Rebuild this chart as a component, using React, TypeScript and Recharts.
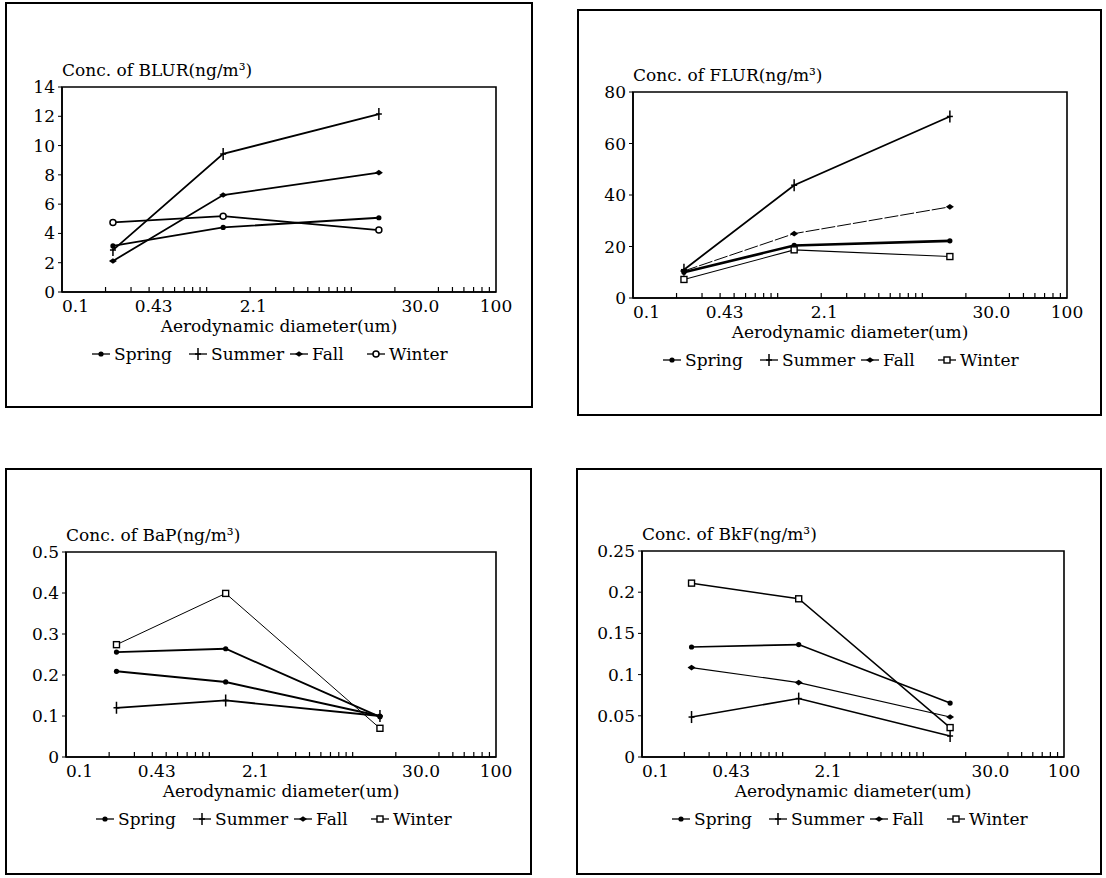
import React from "react";
import { LineChart, Line, XAxis, YAxis, ReferenceArea } from "recharts";

// particle size of each stage (um)
const sizes = [0.225, 1.3, 15.5];

const xTicks = [
  0.1, 0.2, 0.3, 0.4, 0.43, 0.5, 0.6, 0.7, 0.8, 0.9, 1, 2, 2.1, 3, 4, 5, 6, 7, 8, 9, 10,
  20, 30, 40, 50, 60, 70, 80, 90, 100,
];
const xTickLabels: Record<string, string> = { "0.1": "0.1", "0.43": "0.43", "2.1": "2.1", "30": "30.0", "100": "100" };

const seasons = ["Spring", "Summer", "Fall", "Winter"];

// BLUR
const blurSpring = [3.15, 4.41, 5.07];
const blurSummer = [2.86, 9.43, 12.15];
const blurFall = [2.12, 6.62, 8.15];
const blurWinter = [4.75, 5.18, 4.23];
const blurTicks = [0, 2, 4, 6, 8, 10, 12, 14];

// FLUR
const flurSpring = [10.0, 20.4, 22.2];
const flurSummer = [11.0, 43.8, 70.5];
const flurFall = [10.5, 25.0, 35.4];
const flurWinter = [7.2, 18.7, 16.1];
const flurTicks = [0, 20, 40, 60, 80];

// BaP
const bapSpring = [0.256, 0.264, 0.098];
const bapSummer = [0.12, 0.138, 0.1];
const bapFall = [0.209, 0.183, 0.1];
const bapWinter = [0.274, 0.399, 0.07];
const bapTicks = [0, 0.1, 0.2, 0.3, 0.4, 0.5];

// BkF
const bkfSpring = [0.1335, 0.1364, 0.0655];
const bkfSummer = [0.0485, 0.0709, 0.0255];
const bkfFall = [0.1085, 0.0903, 0.0485];
const bkfWinter = [0.211, 0.192, 0.0357];
const bkfTicks = [0, 0.05, 0.1, 0.15, 0.2, 0.25];

const FONT = "'DejaVu Serif', 'Liberation Serif', serif";
const FS = 17;

type Kind = "dot" | "tick" | "star" | "circle" | "square";

function marker(kind: Kind, cx: number, cy: number, key?: any) {
  switch (kind) {
    case "dot":
      return <circle key={key} cx={cx} cy={cy} r={2.6} fill="#000" />;
    case "tick":
      return (
        <g key={key} stroke="#000" strokeWidth={1.5}>
          <line x1={cx} x2={cx} y1={cy - 6} y2={cy + 6} />
          <line x1={cx - 3} x2={cx + 3} y1={cy} y2={cy} />
        </g>
      );
    case "star":
      return <path key={key} d={`M${cx - 4},${cy} L${cx},${cy - 2.8} L${cx + 4},${cy} L${cx},${cy + 2.8} Z`} fill="#000" />;
    case "circle":
      return <circle key={key} cx={cx} cy={cy} r={3} fill="#fff" stroke="#000" strokeWidth={1.5} />;
    case "square":
      return <rect key={key} x={cx - 3} y={cy - 3} width={6} height={6} fill="#fff" stroke="#000" strokeWidth={1.4} />;
  }
}

type Series = { key: string; values: number[]; width: number; dash?: string; kind: Kind };

type PanelCfg = {
  title: string;
  box: [number, number, number, number];
  plot: [number, number, number, number];
  yMax: number;
  yTicks: number[];
  series: Series[];
  legendKinds: Kind[];
};

const panels: PanelCfg[] = [
  {
    title: "Conc. of BLUR(ng/m³)",
    box: [5, 2, 533, 408],
    plot: [62, 87, 496, 292],
    yMax: 14,
    yTicks: blurTicks,
    series: [
      { key: "Spring", values: blurSpring, width: 1.8, kind: "dot" },
      { key: "Summer", values: blurSummer, width: 1.8, kind: "tick" },
      { key: "Fall", values: blurFall, width: 1.8, kind: "star" },
      { key: "Winter", values: blurWinter, width: 1.8, kind: "circle" },
    ],
    legendKinds: ["dot", "tick", "star", "circle"],
  },
  {
    title: "Conc. of FLUR(ng/m³)",
    box: [577, 9, 1102, 416],
    plot: [633, 92, 1067, 298],
    yMax: 80,
    yTicks: flurTicks,
    series: [
      { key: "Spring", values: flurSpring, width: 2.6, kind: "dot" },
      { key: "Summer", values: flurSummer, width: 1.8, kind: "tick" },
      { key: "Fall", values: flurFall, width: 1, dash: "14 2", kind: "star" },
      { key: "Winter", values: flurWinter, width: 1.1, kind: "square" },
    ],
    legendKinds: ["dot", "tick", "star", "square"],
  },
  {
    title: "Conc. of BaP(ng/m³)",
    box: [5, 468, 532, 875],
    plot: [66, 552, 496, 757],
    yMax: 0.5,
    yTicks: bapTicks,
    series: [
      { key: "Spring", values: bapSpring, width: 1.8, kind: "dot" },
      { key: "Summer", values: bapSummer, width: 1.8, kind: "tick" },
      { key: "Fall", values: bapFall, width: 2, kind: "dot" },
      { key: "Winter", values: bapWinter, width: 1, kind: "square" },
    ],
    legendKinds: ["dot", "tick", "star", "square"],
  },
  {
    title: "Conc. of BkF(ng/m³)",
    box: [576, 468, 1102, 875],
    plot: [642, 551, 1064, 757],
    yMax: 0.25,
    yTicks: bkfTicks,
    series: [
      { key: "Spring", values: bkfSpring, width: 1.6, kind: "dot" },
      { key: "Summer", values: bkfSummer, width: 1.6, kind: "tick" },
      { key: "Fall", values: bkfFall, width: 1.2, kind: "star" },
      { key: "Winter", values: bkfWinter, width: 1.5, kind: "square" },
    ],
    legendKinds: ["dot", "tick", "star", "square"],
  },
];

function XTick(props: any) {
  const { x, y, payload } = props;
  const v = payload.value;
  const label = xTickLabels[String(v)];
  if (label) {
    const anchor = label === "0.1" ? "start" : "middle";
    return (
      <text x={x} y={y + 20} textAnchor={anchor} fontFamily={FONT} fontSize={FS} fill="#000">
        {label}
      </text>
    );
  }
  return <line x1={x} x2={x} y1={y} y2={y - 5} stroke="#000" strokeWidth={1.2} />;
}

const legendOffsets = [30, 127, 228, 305];

function Panel({ cfg }: { cfg: PanelCfg }) {
  const [bl, bt, br, bb] = cfg.box;
  const [pl, pt, pr, pb] = cfg.plot;
  const padL = 60, padT = 20, padR = 20, padB = 30;
  const width = pr - pl + padL + padR;
  const height = pb - pt + padT + padB;
  const data = sizes.map((x, i) => {
    const row: any = { x };
    cfg.series.forEach((s) => (row[s.key] = s.values[i]));
    return row;
  });
  return (
    <>
      <div
        style={{
          position: "absolute", left: bl, top: bt, width: br - bl, height: bb - bt,
          border: "2px solid #000", boxSizing: "border-box",
        }}
      />
      <div style={{ position: "absolute", left: pl, top: pt - 27, fontFamily: FONT, fontSize: FS, lineHeight: "20px", whiteSpace: "nowrap" }}>
        {cfg.title}
      </div>
      <div style={{ position: "absolute", left: pl - padL, top: pt - padT }}>
        <LineChart width={width} height={height} data={data} margin={{ top: padT, right: padR, bottom: 0, left: 0 }}>
          <XAxis
            dataKey="x" type="number" scale="log" domain={[0.1, 100]} allowDataOverflow
            ticks={xTicks} interval={0} tick={<XTick />} tickLine={false} tickSize={0} tickMargin={0}
            height={padB} axisLine={{ stroke: "#000", strokeWidth: 1.6 }}
          />
          <YAxis
            type="number" domain={[0, cfg.yMax]} ticks={cfg.yTicks} interval={0} width={padL}
            tickSize={4} tickMargin={3} tickLine={{ stroke: "#000" }}
            axisLine={{ stroke: "#000", strokeWidth: 1.6 }}
            tick={{ fill: "#000", fontSize: FS, fontFamily: FONT }}
          />
          <ReferenceArea x1={0.1} x2={100} y1={0} y2={cfg.yMax} fill="none" stroke="#000" strokeWidth={1.6} ifOverflow="visible" />
          {cfg.series.map((s) => (
            <Line
              key={s.key} dataKey={s.key} type="linear" stroke="#000" strokeWidth={s.width}
              strokeDasharray={s.dash} isAnimationActive={false}
              dot={(p: any) => marker(s.kind, p.cx, p.cy, `${s.key}-${p.index}`)}
            />
          ))}
        </LineChart>
      </div>
      <div
        style={{
          position: "absolute", left: pl, top: pb + 24, width: pr - pl, textAlign: "center",
          fontFamily: FONT, fontSize: FS, lineHeight: "20px",
        }}
      >
        Aerodynamic diameter(um)
      </div>
      {seasons.map((name, i) => (
        <div
          key={name}
          style={{
            position: "absolute", left: pl + legendOffsets[i], top: pb + 52, height: 20,
            display: "flex", alignItems: "center", fontFamily: FONT, fontSize: FS, whiteSpace: "nowrap",
          }}
        >
          <svg width={18} height={14} style={{ marginRight: 4 }}>
            <line x1={0} x2={18} y1={7} y2={7} stroke="#000" strokeWidth={1.3} />
            {marker(cfg.legendKinds[i], 9, 7)}
          </svg>
          {name}
        </div>
      ))}
    </>
  );
}

export default function App() {
  return (
    <div style={{ position: "absolute", left: 0, top: 0, width: 1106, height: 878, background: "#fff" }}>
      {panels.map((p) => (
        <Panel key={p.title} cfg={p} />
      ))}
    </div>
  );
}
